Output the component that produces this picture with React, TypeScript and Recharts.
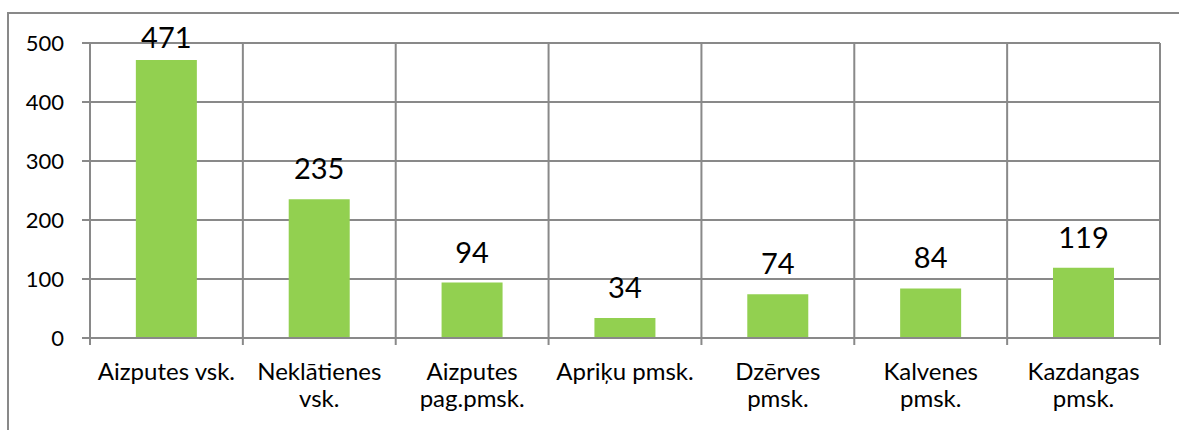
import { BarChart, Bar, XAxis, YAxis, CartesianGrid, LabelList } from "recharts";

const categories = [
  "Aizputes vsk.",
  "Neklātienes\nvsk.",
  "Aizputes\npag.pmsk.",
  "Apriķu pmsk.",
  "Dzērves\npmsk.",
  "Kalvenes\npmsk.",
  "Kazdangas\npmsk.",
];
const values = [471, 235, 94, 34, 74, 84, 119];
const yTicks = [0, 100, 200, 300, 400, 500];

const data = categories.map((name, i) => ({ name, value: values[i] }));

const W = 1179;
const H = 430;
const MARGIN = { top: 43, right: 19, left: 0, bottom: 12 };
const Y_W = 90;
const STEP = (W - MARGIN.left - Y_W - MARGIN.right) / categories.length;
const GRID = "#898989";
const FONT = "Lato, 'Open Sans', sans-serif";

function CategoryTick(props: any) {
  const { x, y, payload, index } = props;
  const lines = String(payload.value).split("\n");
  return (
    <g>
      <line x1={x - STEP / 2} y1={y} x2={x - STEP / 2} y2={y + 7} stroke={GRID} strokeWidth={2} />
      {index === categories.length - 1 && (
        <line x1={x + STEP / 2} y1={y} x2={x + STEP / 2} y2={y + 7} stroke={GRID} strokeWidth={2} />
      )}
      <text x={x} y={y} textAnchor="middle" fill="#000" fontSize={24} fontFamily={FONT}>
        {lines.map((l, i) => (
          <tspan key={i} x={x} y={y + 42 + i * 27}>
            {l}
          </tspan>
        ))}
      </text>
    </g>
  );
}

// value label above the bar; kept from running past the top of the plot (like Excel does)
function ValueLabel(props: any) {
  const { x, y, width, value } = props;
  const baseline = Math.max(y - 20, MARGIN.top + 5);
  return (
    <text x={x + width / 2} y={baseline} textAnchor="middle" fill="#000" fontSize={29} fontFamily={FONT}>
      {value}
    </text>
  );
}

export default function App() {
  return (
    <div style={{ position: "absolute", left: 0, top: 0, width: W, height: H, background: "#fff" }}>
      <div
        style={{
          position: "absolute",
          left: 7,
          top: 12,
          width: W - 7,
          height: H - 12,
          borderLeft: `2px solid ${GRID}`,
          borderTop: `2px solid ${GRID}`,
        }}
      />
      <BarChart
        width={W}
        height={H}
        data={data}
        margin={MARGIN}
        barCategoryGap="30%"
        style={{ position: "absolute", left: 0, top: 0 }}
      >
        <CartesianGrid
          stroke={GRID}
          strokeWidth={2}
          verticalCoordinatesGenerator={({ offset }: any) =>
            Array.from({ length: categories.length + 1 }, (_, i) => offset.left + (i * offset.width) / categories.length)
          }
        />
        <XAxis
          dataKey="name"
          interval={0}
          height={80}
          tickSize={0}
          tickMargin={0}
          tickLine={false}
          axisLine={{ stroke: GRID, strokeWidth: 2 }}
          tick={<CategoryTick />}
        />
        <YAxis
          width={Y_W}
          domain={[0, 500]}
          ticks={yTicks}
          interval={0}
          tickSize={8}
          tickMargin={18}
          tickLine={{ stroke: GRID, strokeWidth: 2 }}
          axisLine={{ stroke: GRID, strokeWidth: 2 }}
          tick={{ fill: "#000", fontSize: 22, fontFamily: FONT }}
        />
        <Bar dataKey="value" fill="#92D050" isAnimationActive={false}>
          <LabelList dataKey="value" content={<ValueLabel />} />
        </Bar>
      </BarChart>
    </div>
  );
}
